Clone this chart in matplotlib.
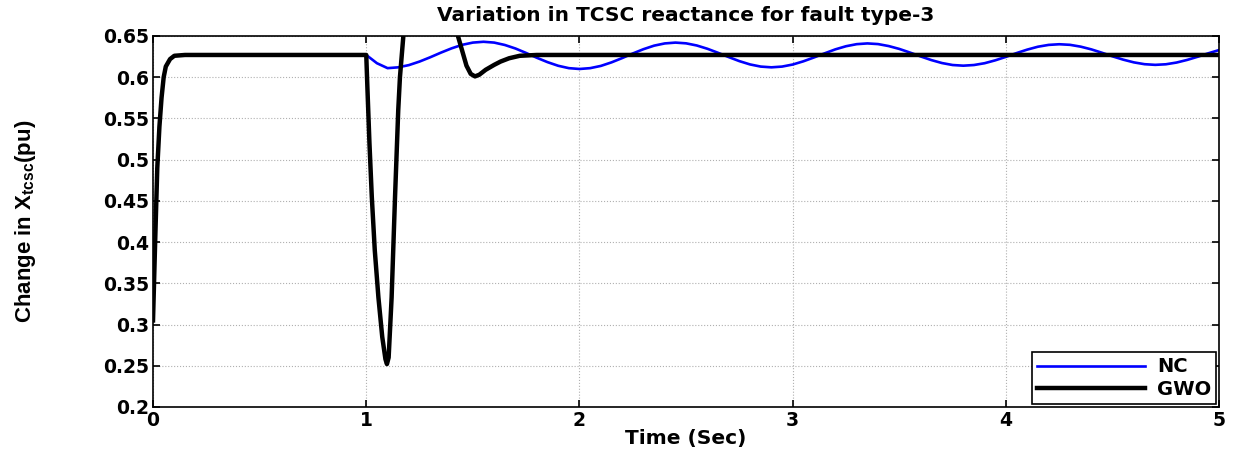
import numpy as np
import matplotlib.pyplot as plt
from matplotlib import font_manager
from matplotlib.ticker import FormatStrFormatter, MultipleLocator

# NC response (blue)
t_nc = [0.0, 0.01, 0.02, 0.03, 0.04, 0.05, 0.06, 0.08, 0.10, 0.15, 1.00, 1.05,
        1.10, 1.15, 1.20, 1.25, 1.30, 1.35, 1.40, 1.45, 1.50, 1.55,
        1.60, 1.65, 1.70, 1.75, 1.80, 1.85, 1.90, 1.95, 2.00,
        2.05, 2.10, 2.15, 2.20, 2.25, 2.30, 2.35, 2.40, 2.45,
        2.50, 2.55, 2.60, 2.65, 2.70, 2.75, 2.80, 2.85, 2.90,
        2.95, 3.00, 3.05, 3.10, 3.15, 3.20, 3.25, 3.30, 3.35,
        3.40, 3.45, 3.50, 3.55, 3.60, 3.65, 3.70, 3.75, 3.80,
        3.85, 3.90, 3.95, 4.00, 4.05, 4.10, 4.15, 4.20, 4.25,
        4.30, 4.35, 4.40, 4.45, 4.50, 4.55, 4.60, 4.65, 4.70,
        4.75, 4.80, 4.85, 4.90, 4.95, 5.00]
x_nc = [0.305, 0.40, 0.49, 0.54, 0.575, 0.60, 0.613, 0.622, 0.626, 0.627, 0.627, 0.617,
        0.611, 0.612, 0.6147, 0.619, 0.6242, 0.6298, 0.635, 0.6393, 0.642, 0.643,
        0.642, 0.6391, 0.6348, 0.6294, 0.6236, 0.6183, 0.6139, 0.611, 0.610,
        0.611, 0.6137, 0.618, 0.6232, 0.6288, 0.634, 0.6383, 0.641, 0.642,
        0.6411, 0.6385, 0.6345, 0.6296, 0.6244, 0.6195, 0.6155, 0.6129, 0.612,
        0.6129, 0.6154, 0.6193, 0.624, 0.629, 0.6338, 0.6376, 0.6401, 0.641,
        0.6402, 0.6378, 0.6343, 0.6299, 0.6252, 0.6208, 0.6172, 0.6148, 0.614,
        0.6148, 0.617, 0.6205, 0.6247, 0.6293, 0.6335, 0.637, 0.6392, 0.640,
        0.6393, 0.6371, 0.6338, 0.6297, 0.6253, 0.6213, 0.618, 0.6158, 0.615,
        0.6157, 0.6178, 0.621, 0.6249, 0.6291, 0.633]

# GWO response (black)
t_gwo = [0.0, 0.01, 0.02, 0.03, 0.04, 0.05, 0.06, 0.08, 0.10, 0.15, 1.00,
         1.005, 1.015, 1.026, 1.04, 1.057, 1.075, 1.09, 1.097, 1.105, 1.119,
         1.135, 1.15, 1.158, 1.174, 1.20, 1.30, 1.40, 1.43, 1.45, 1.47, 1.49,
         1.51, 1.53, 1.56, 1.60, 1.63, 1.67, 1.72, 1.80, 5.00]
x_gwo = [0.305, 0.40, 0.49, 0.54, 0.575, 0.60, 0.613, 0.622, 0.626, 0.627, 0.627,
         0.59, 0.52, 0.455, 0.39, 0.333, 0.285, 0.258, 0.252, 0.26, 0.333,
         0.455, 0.56, 0.60, 0.65, 0.70, 0.74, 0.70, 0.65, 0.632, 0.614, 0.604,
         0.601, 0.603, 0.609, 0.615, 0.619, 0.623, 0.626, 0.627, 0.627]

plt.rcParams['font.family'] = ['DejaVu Sans']

# narrow font for the y label if available
try:
    font_manager.findfont('Liberation Sans Narrow', fallback_to_default=False)
    ylab_family, ylab_size = ['Liberation Sans Narrow', 'DejaVu Sans'], 19
except Exception:
    ylab_family, ylab_size = ['Liberation Sans', 'DejaVu Sans'], 16

fig = plt.figure(figsize=(12.34, 4.5), dpi=100)
ax = fig.add_axes([0.124, 0.0956, 0.864, 0.8244])

ax.plot(t_nc, x_nc, color='#0000ff', lw=1.9, label='NC')
ax.plot(t_gwo, x_gwo, color='k', lw=3.2, label='GWO')

ax.set_xlim(0, 5)
ax.set_ylim(0.2, 0.65)
ax.xaxis.set_major_locator(MultipleLocator(1))
ax.yaxis.set_major_locator(MultipleLocator(0.05))
ax.yaxis.set_major_formatter(FormatStrFormatter('%g'))
ax.xaxis.set_major_formatter(FormatStrFormatter('%g'))
ax.tick_params(direction='in', length=5, width=1.2, labelsize=13.5, top=True, right=True, pad=3)
for lab in ax.get_xticklabels() + ax.get_yticklabels():
    lab.set_fontweight('bold')
for sp in ax.spines.values():
    sp.set_linewidth(1.2)
ax.grid(True, ls=':', color='#b0b0b0', lw=0.8)

ax.set_title('Variation in TCSC reactance for fault type-3', fontsize=14.5,
             fontweight='bold', pad=11)
ax.set_xlabel('Time (Sec)', fontsize=14.5, fontweight='bold', labelpad=-1)
ax.set_ylabel(r'Change in X$_{\mathregular{tcsc}}$(pu)', fontsize=ylab_size,
              family=ylab_family, fontweight='semibold')
ax.yaxis.set_label_coords(-0.108, 0.5)

leg = ax.legend(loc='lower right', prop={'size': 14, 'weight': 'bold'}, frameon=True,
                fancybox=False, borderaxespad=0.15, handlelength=5.6, borderpad=0.25,
                labelspacing=0.2, handletextpad=0.6)
leg.get_frame().set_edgecolor('k')
leg.get_frame().set_linewidth(1.2)
leg.get_frame().set_alpha(1)

fig.savefig('out.png', dpi=100)
